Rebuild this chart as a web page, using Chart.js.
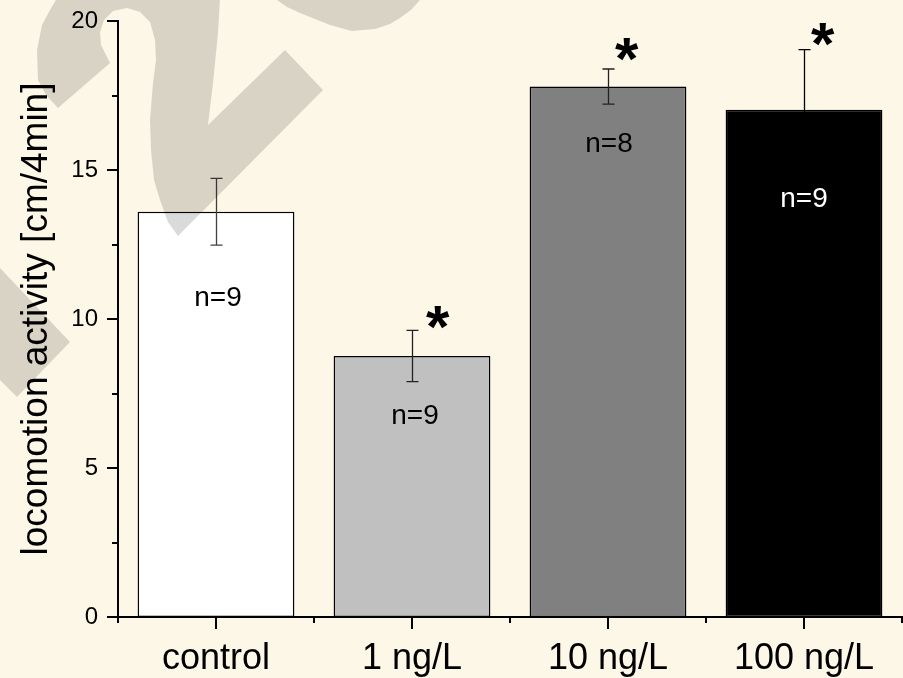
<!DOCTYPE html>
<html>
<head>
<meta charset="utf-8">
<script src="https://cdn.jsdelivr.net/npm/chart.js@4/dist/chart.umd.min.js"></script>
<style>
html,body{margin:0;padding:0;background:#fdf7e7;}
#wrap{width:903px;height:678px;}
canvas{display:block;}
</style>
</head>
<body>
<div id="wrap"><canvas id="c" width="903" height="678"></canvas></div>
<script>
// ---------- data ----------
const categories = ['control', '1 ng/L', '10 ng/L', '100 ng/L'];
const meanActivity = [13.6, 8.76, 17.8, 17.02];
const errActivity = [1.12, 0.86, 0.59, 2.02];
const sampleSizes = [9, 9, 8, 9];
const significant = [false, true, true, true];
const yTickValues = [0, 5, 10, 15, 20];
const yTitle = 'locomotion activity [cm/4min]';

// ---------- styles ----------
const BG = '#fdf7e7';
const FONT = "'Liberation Sans', Arial, Helvetica, sans-serif";
const barColors = ['#ffffff', '#c0c0c0', '#808080', '#000000'];
const errColors = ['#404040', '#222222', '#222222', '#000000'];
const nLabelColors = ['#000', '#000', '#000', '#fff'];
const nLabelOffsets = [{dx: 2, dy: 85}, {dx: 3, dy: 59}, {dx: 1, dy: 56}, {dx: 0, dy: 88}];
const starOffsets = [{dx: 26, dy: -13}, {dx: 26, dy: -13}, {dx: 19, dy: -19}, {dx: 19, dy: -15}];

const bgPlugin = {
  id: 'bg',
  beforeDraw(chart) {
    const ctx = chart.ctx;
    ctx.save();
    ctx.fillStyle = BG;
    ctx.fillRect(0, 0, chart.width, chart.height);
    ctx.restore();
  }
};

const tickMarks = {
  id: 'tickMarks',
  afterDraw(chart) {
    const ctx = chart.ctx;
    const ys = chart.scales.y, xs = chart.scales.x;
    const ca = chart.chartArea;
    ctx.save();
    ctx.strokeStyle = '#000';
    ctx.lineWidth = 2;
    ctx.beginPath();
    for (let v = ys.min; v <= ys.max + 1e-9; v += 2.5) {
      const y = Math.round(ys.getPixelForValue(v));
      const len = (Math.abs(v % 5) < 1e-9) ? 11 : 6;
      ctx.moveTo(ca.left - len, y);
      ctx.lineTo(ca.left, y);
    }
    for (let i = 0; i < categories.length; i++) {
      const x = Math.round(xs.getPixelForValue(i));
      ctx.moveTo(x, ca.bottom);
      ctx.lineTo(x, ca.bottom + 12);
    }
    for (let i = 0; i <= categories.length; i++) {
      const x = Math.round(xs.getPixelForValue(i - 0.5));
      ctx.moveTo(x, ca.bottom);
      ctx.lineTo(x, ca.bottom + 6);
    }
    ctx.stroke();
    ctx.restore();
  }
};

const errorBars = {
  id: 'errorBars',
  afterDatasetsDraw(chart) {
    const ctx = chart.ctx;
    const ys = chart.scales.y;
    const meta = chart.getDatasetMeta(0);
    ctx.save();
    ctx.lineWidth = 1.3;
    meta.data.forEach((bar, i) => {
      ctx.strokeStyle = errColors[i];
      const x = Math.round(bar.x) + 0.5;
      const yTop = ys.getPixelForValue(meanActivity[i] + errActivity[i]);
      const yBot = ys.getPixelForValue(meanActivity[i] - errActivity[i]);
      ctx.beginPath();
      ctx.moveTo(x, yTop); ctx.lineTo(x, yBot);
      ctx.moveTo(x - 6, yTop); ctx.lineTo(x + 6, yTop);
      ctx.moveTo(x - 6, yBot); ctx.lineTo(x + 6, yBot);
      ctx.stroke();
    });
    ctx.restore();
  }
};

const annotations = {
  id: 'annotations',
  afterDatasetsDraw(chart) {
    const ctx = chart.ctx;
    const ys = chart.scales.y;
    const meta = chart.getDatasetMeta(0);
    ctx.save();
    meta.data.forEach((bar, i) => {
      ctx.font = '28px ' + FONT;
      ctx.fillStyle = nLabelColors[i];
      ctx.textAlign = 'center';
      ctx.textBaseline = 'alphabetic';
      const txt = 'n=' + sampleSizes[i];
      const m = ctx.measureText(txt);
      const cy = bar.y + nLabelOffsets[i].dy;
      ctx.fillText(txt, bar.x + nLabelOffsets[i].dx, cy + (m.actualBoundingBoxAscent - m.actualBoundingBoxDescent) / 2);
      if (significant[i]) {
        ctx.font = 'bold 60px ' + FONT;
        ctx.fillStyle = '#000';
        ctx.textAlign = 'left';
        const sm = ctx.measureText('*');
        const w = sm.actualBoundingBoxRight + sm.actualBoundingBoxLeft;
        const h = sm.actualBoundingBoxAscent + sm.actualBoundingBoxDescent;
        const sx = bar.x + starOffsets[i].dx;
        const sy = ys.getPixelForValue(meanActivity[i] + errActivity[i]) + starOffsets[i].dy;
        ctx.fillText('*', sx - w / 2 + sm.actualBoundingBoxLeft, sy - h / 2 + sm.actualBoundingBoxAscent);
      }
    });
    ctx.restore();
  }
};

const watermark = {
  id: 'watermark',
  afterDraw(chart) {
    const ctx = chart.ctx;
    const shapes = [
      [[58,108],[46,95],[38,80],[37,50],[42,25],[50,10],[57,-2],[220,-2],[218,33],[213,83],[208,125],
       [285,50],[323,90],[178,236],[168,222],[160,200],[154,180],[151,150],[150,120],[153,83],[156,60],[155,40],
       [150,22],[140,12],[127,8],[113,11],[104,20],[100,32],[101,45],[110,63]],
      [[277,-2],[277,0],[287,7],[300,13],[315,19],[330,25],[352,31],[375,29],[390,24],[400,18],[411,10],[420,0],[420,-2]],
      [[-2,266],[70,342],[17,397],[-2,378]]
    ];
    ctx.save();
    ctx.fillStyle = 'rgba(0,0,0,0.145)';
    shapes.forEach(pts => {
      ctx.beginPath();
      pts.forEach((p, k) => k ? ctx.lineTo(p[0], p[1]) : ctx.moveTo(p[0], p[1]));
      ctx.closePath();
      ctx.fill();
    });
    ctx.restore();
  }
};

Chart.defaults.font.family = FONT;
Chart.defaults.color = '#000';

new Chart(document.getElementById('c'), {
  type: 'bar',
  data: {
    labels: categories,
    datasets: [{
      data: meanActivity,
      backgroundColor: barColors,
      borderColor: '#000',
      borderWidth: 1.5,
      borderSkipped: false,
      barPercentage: 0.8,
      categoryPercentage: 1.0
    }]
  },
  options: {
    responsive: false,
    animation: false,
    layout: {padding: {top: 21, right: 1, left: 0, bottom: 0}},
    plugins: {legend: {display: false}, tooltip: {enabled: false}},
    scales: {
      x: {
        type: 'category',
        offset: true,
        grid: {display: false, drawTicks: false},
        border: {display: true, color: '#000', width: 2},
        ticks: {font: {size: 36}, color: '#000', padding: 20, maxRotation: 0, autoSkip: false},
        afterFit(s) { s.height = 61; s.paddingLeft = 0; s.paddingRight = 0; }
      },
      y: {
        min: 0, max: 20,
        afterBuildTicks(s) { s.ticks = yTickValues.map(v => ({value: v})); },
        grid: {display: false, drawTicks: false},
        border: {display: true, color: '#000', width: 2},
        ticks: {font: {size: 24}, color: '#000', padding: 20},
        title: {display: true, text: yTitle, font: {size: 37}, color: '#000', padding: {top: 15, bottom: 0}},
        afterFit(s) { s.width = 118; s.paddingTop = 0; s.paddingBottom = 0; }
      }
    }
  },
  plugins: [bgPlugin, errorBars, annotations, tickMarks, watermark]
});
</script>
</body>
</html>
